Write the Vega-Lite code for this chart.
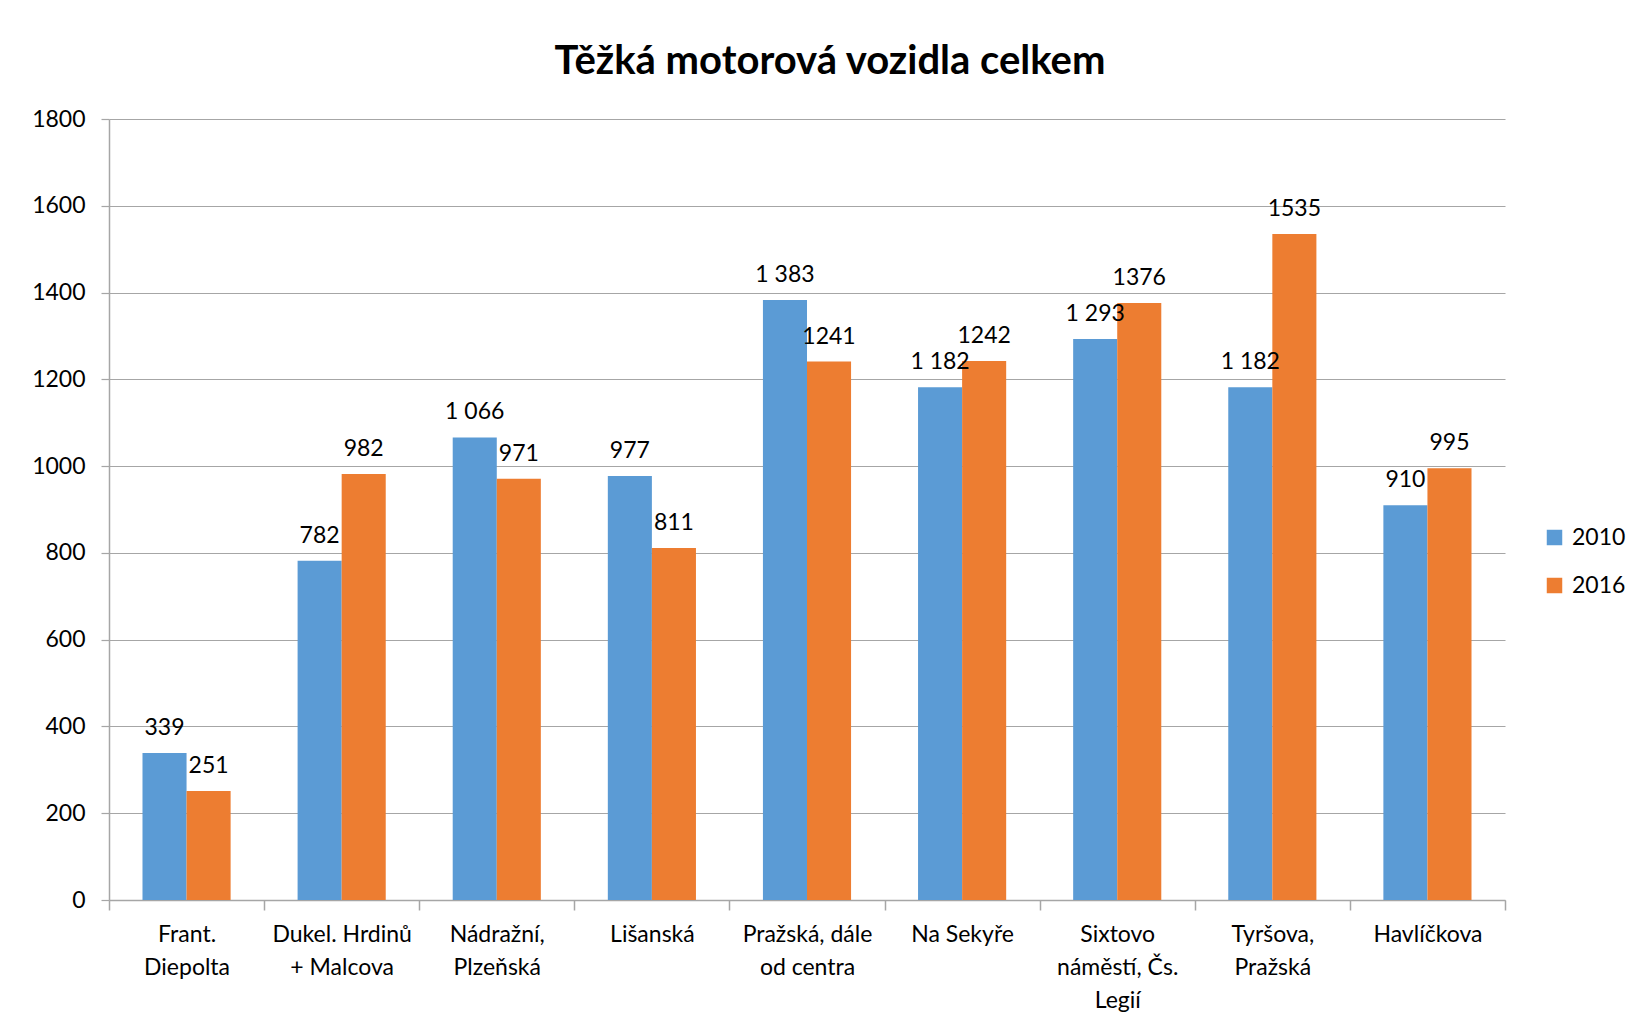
{
  "$schema": "https://vega.github.io/schema/vega-lite/v6.json",
  "width": 1396,
  "height": 781,
  "autosize": {"type": "none"},
  "padding": {"left": 109, "top": 119, "right": 122, "bottom": 125},
  "background": "white",
  "title": {
    "text": "Těžká motorová vozidla celkem",
    "font": "Lato",
    "fontSize": 40,
    "fontWeight": "bold",
    "color": "#000000",
    "offset": 26,
    "dx": 23
  },
  "config": {
    "font": "Lato",
    "view": {"stroke": null}
  },
  "data": {
    "values": [
      {"misto": "Frant.\nDiepolta", "rok": "2010", "pocet": 339, "label": "339"},
      {"misto": "Frant.\nDiepolta", "rok": "2016", "pocet": 251, "label": "251"},
      {"misto": "Dukel. Hrdinů\n+ Malcova", "rok": "2010", "pocet": 782, "label": "782"},
      {"misto": "Dukel. Hrdinů\n+ Malcova", "rok": "2016", "pocet": 982, "label": "982"},
      {"misto": "Nádražní,\nPlzeňská", "rok": "2010", "pocet": 1066, "label": "1 066"},
      {"misto": "Nádražní,\nPlzeňská", "rok": "2016", "pocet": 971, "label": "971"},
      {"misto": "Lišanská", "rok": "2010", "pocet": 977, "label": "977"},
      {"misto": "Lišanská", "rok": "2016", "pocet": 811, "label": "811"},
      {"misto": "Pražská, dále\nod centra", "rok": "2010", "pocet": 1383, "label": "1 383"},
      {"misto": "Pražská, dále\nod centra", "rok": "2016", "pocet": 1241, "label": "1241"},
      {"misto": "Na Sekyře", "rok": "2010", "pocet": 1182, "label": "1 182"},
      {"misto": "Na Sekyře", "rok": "2016", "pocet": 1242, "label": "1242"},
      {"misto": "Sixtovo\nnáměstí, Čs.\nLegií", "rok": "2010", "pocet": 1293, "label": "1 293"},
      {"misto": "Sixtovo\nnáměstí, Čs.\nLegií", "rok": "2016", "pocet": 1376, "label": "1376"},
      {"misto": "Tyršova,\nPražská", "rok": "2010", "pocet": 1182, "label": "1 182"},
      {"misto": "Tyršova,\nPražská", "rok": "2016", "pocet": 1535, "label": "1535"},
      {"misto": "Havlíčkova", "rok": "2010", "pocet": 910, "label": "910"},
      {"misto": "Havlíčkova", "rok": "2016", "pocet": 995, "label": "995"}
    ]
  },
  "encoding": {
    "x": {
      "field": "misto",
      "type": "nominal",
      "sort": null,
      "scale": {"paddingInner": 0, "paddingOuter": 0},
      "axis": {
        "title": null,
        "labelAngle": 0,
        "labelExpr": "split(datum.label, '\\n')",
        "labelFontSize": 23,
        "labelColor": "#000000",
        "labelLineHeight": 33,
        "labelBaseline": "top",
        "labelPadding": 13,
        "tickBand": "extent",
        "tickSize": 10,
        "tickColor": "#A6A6A6",
        "domainColor": "#A6A6A6",
        "domainWidth": 1.5,
        "tickWidth": 1.5
      }
    },
    "xOffset": {"field": "rok", "type": "nominal", "scale": {"paddingInner": 0, "paddingOuter": 0.76}},
    "y": {
      "field": "pocet",
      "type": "quantitative",
      "scale": {"domain": [0, 1800], "nice": false},
      "axis": {
        "title": null,
        "format": "d",
        "values": [0, 200, 400, 600, 800, 1000, 1200, 1400, 1600, 1800],
        "labelFontSize": 23,
        "labelColor": "#000000",
        "labelPadding": 16,
        "tickSize": 8,
        "tickColor": "#A6A6A6",
        "domainColor": "#A6A6A6",
        "domainWidth": 1.5,
        "gridColor": "#A6A6A6",
        "gridWidth": 1.2,
        "tickWidth": 1.2
      }
    }
  },
  "layer": [
    {
      "mark": {"type": "bar"},
      "encoding": {
        "color": {
          "field": "rok",
          "type": "nominal",
          "scale": {"range": ["#5B9BD5", "#ED7D31"]},
          "legend": {
            "title": null,
            "orient": "none",
            "legendX": 1434,
            "legendY": 407,
            "symbolType": "square",
            "symbolSize": 240,
            "symbolStrokeWidth": 0,
            "labelFontSize": 23,
            "labelColor": "#000000",
            "rowPadding": 24,
            "labelOffset": 6
          }
        }
      }
    },
    {
      "mark": {"type": "text", "baseline": "bottom", "dy": -13, "fontSize": 23, "color": "#000000"},
      "encoding": {
        "text": {"field": "label", "type": "nominal"}
      }
    }
  ]
}
